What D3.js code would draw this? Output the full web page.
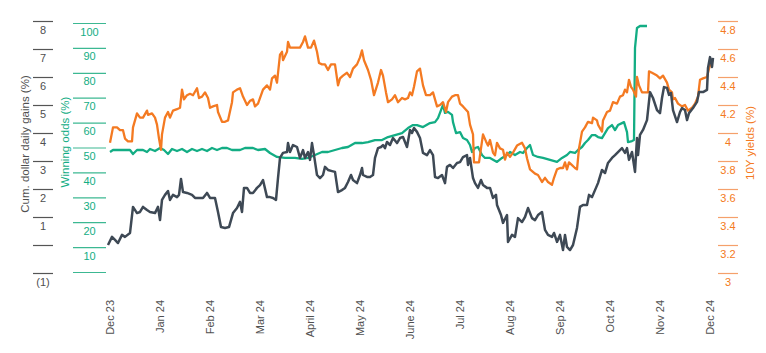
<!DOCTYPE html>
<html>
<head>
<meta charset="utf-8">
<script src="https://cdn.jsdelivr.net/npm/d3@7"></script>
<style>
  body { margin: 0; background: #fff; }
  svg { font-family: "Liberation Sans", Arial, sans-serif; }
</style>
</head>
<body>
<div id="chart"></div>
<script>
// x values are months since Dec 23 (0 = Dec 23, 12 = Dec 24)
const monthLabels = ['Dec 23', 'Jan 24', 'Feb 24', 'Mar 24', 'April 24', 'May 24', 'June 24',
  'Jul 24', 'Aug 24', 'Sep 24', 'Oct 24', 'Nov 24', 'Dec 24']

const gainsTicks = [8, 7, 6, 5, 4, 3, 2, 1, 0, -1]
const oddsTicks = [100, 90, 80, 70, 60, 50, 40, 30, 20, 10, 0]
const yieldTicks = [4.8, 4.6, 4.4, 4.2, 4, 3.8, 3.6, 3.4, 3.2, 3]

// cum. dollar daily gains (%)
const gains = [
  [-0.02, 0.0], [0.06, 0.29], [0.12, 0.18], [0.18, 0.07], [0.26, 0.36], [0.32, 0.29], [0.42, 0.43],
  [0.48, 1.36], [0.56, 1.14], [0.62, 1.18], [0.68, 1.36], [0.76, 1.25], [0.82, 1.18], [0.92, 1.14],
  [0.98, 1.36], [1.02, 0.89], [1.06, 1.61], [1.12, 1.79], [1.18, 1.93], [1.22, 1.61], [1.28, 1.79],
  [1.36, 1.71], [1.40, 1.79], [1.44, 2.36], [1.48, 1.89], [1.56, 1.86], [1.66, 1.79], [1.72, 1.68],
  [1.82, 1.68], [1.88, 1.68], [1.96, 1.86], [2.02, 1.68], [2.12, 1.68], [2.18, 1.18], [2.24, 0.64],
  [2.32, 0.61], [2.40, 0.64], [2.48, 1.14], [2.56, 1.32], [2.62, 1.54], [2.66, 1.18], [2.70, 2.04],
  [2.76, 2.04], [2.82, 1.86], [2.88, 1.86], [2.96, 2.04], [3.02, 2.14], [3.08, 2.32], [3.16, 1.71],
  [3.22, 1.71], [3.28, 1.68], [3.34, 1.61], [3.38, 2.39], [3.42, 3.11], [3.48, 3.29], [3.56, 3.32],
  [3.58, 3.64], [3.62, 3.32], [3.68, 3.57], [3.76, 3.5], [3.82, 3.11], [3.88, 3.39], [3.92, 3.11],
  [3.98, 3.32], [4.02, 3.04], [4.06, 3.64], [4.10, 3.21], [4.16, 2.5], [4.22, 2.39], [4.28, 2.5],
  [4.32, 2.79], [4.38, 2.68], [4.46, 2.64], [4.52, 2.61], [4.58, 1.89], [4.66, 1.96], [4.72, 2.04],
  [4.78, 2.25], [4.84, 2.5], [4.88, 2.32], [4.96, 2.21], [5.02, 2.5], [5.06, 2.75], [5.08, 2.5],
  [5.16, 2.43], [5.22, 2.43], [5.28, 2.5], [5.32, 3.11], [5.38, 3.46], [5.44, 3.5], [5.48, 3.57],
  [5.52, 3.46], [5.56, 3.68], [5.62, 3.57], [5.68, 3.82], [5.76, 3.64], [5.82, 3.82], [5.88, 3.86],
  [5.96, 3.5], [6.02, 4.11], [6.06, 4.0], [6.10, 4.18], [6.16, 4.04], [6.22, 3.82], [6.28, 3.29],
  [6.36, 3.21], [6.42, 3.39], [6.48, 3.21], [6.52, 2.43], [6.58, 2.39], [6.66, 2.5], [6.72, 2.21],
  [6.76, 2.79], [6.82, 2.86], [6.88, 2.75], [6.96, 2.93], [7.02, 2.96], [7.08, 3.14], [7.16, 3.21],
  [7.18, 2.86], [7.22, 3.11], [7.28, 2.39], [7.32, 2.21], [7.38, 2.04], [7.44, 2.32], [7.48, 2.14],
  [7.56, 2.04], [7.62, 2.04], [7.68, 1.68], [7.74, 1.79], [7.76, 1.43], [7.84, 1.07], [7.88, 0.79],
  [7.96, 1.07], [7.98, 0.11], [8.06, 0.36], [8.12, 0.29], [8.18, 0.96], [8.26, 0.82], [8.32, 1.0],
  [8.38, 1.32], [8.46, 0.96], [8.52, 0.89], [8.58, 1.07], [8.66, 1.18], [8.72, 0.54], [8.78, 0.36],
  [8.86, 0.29], [8.90, 0.43], [8.96, 0.11], [9.02, 0.36], [9.08, -0.18], [9.12, 0.36], [9.16, -0.07],
  [9.22, -0.18], [9.28, 0.0], [9.36, 0.61], [9.42, 1.36], [9.48, 1.43], [9.56, 1.43], [9.60, 1.79],
  [9.66, 1.71], [9.72, 1.96], [9.78, 2.21], [9.86, 2.68], [9.92, 2.57], [9.98, 2.93], [10.06, 3.11],
  [10.12, 3.21], [10.18, 3.32], [10.26, 3.46], [10.32, 3.29], [10.36, 3.46], [10.40, 3.04],
  [10.46, 3.32], [10.52, 2.61], [10.56, 3.82], [10.58, 3.21], [10.62, 3.93], [10.68, 4.11],
  [10.76, 4.46], [10.82, 5.46], [10.88, 5.25], [10.96, 4.82], [11.02, 4.71], [11.06, 5.25],
  [11.10, 5.64], [11.16, 5.61], [11.20, 5.36], [11.24, 5.43], [11.28, 4.82], [11.36, 4.39],
  [11.42, 4.75], [11.46, 4.89], [11.52, 4.82], [11.56, 4.46], [11.60, 4.71], [11.68, 4.89],
  [11.76, 5.11], [11.80, 5.46], [11.88, 5.46], [11.96, 5.54], [11.98, 6.32], [12.02, 6.71],
  [12.06, 6.36], [12.08, 6.68]
]

// winning odds (%)
const odds = [
  [0.02, 48.2], [0.08, 49.0], [0.22, 49.0], [0.42, 49.0], [0.48, 47.4], [0.56, 49.0], [0.68, 49.0],
  [0.76, 48.2], [0.82, 49.4], [0.92, 48.6], [1.02, 49.8], [1.10, 49.0], [1.18, 47.4], [1.26, 49.4],
  [1.36, 48.6], [1.46, 49.4], [1.56, 48.2], [1.66, 49.4], [1.76, 48.6], [1.86, 49.4], [1.96, 48.6],
  [2.06, 49.8], [2.16, 49.0], [2.26, 49.8], [2.36, 49.8], [2.46, 49.0], [2.62, 49.0], [2.72, 49.8],
  [2.88, 49.8], [2.98, 49.0], [3.12, 49.4], [3.22, 47.8], [3.36, 46.2], [3.52, 45.8], [3.72, 45.8],
  [3.86, 45.4], [3.98, 45.8], [4.12, 47.0], [4.26, 48.2], [4.38, 48.2], [4.52, 49.0], [4.66, 49.8],
  [4.78, 50.2], [4.92, 51.8], [5.06, 51.8], [5.18, 52.2], [5.32, 53.0], [5.46, 53.0], [5.58, 54.2],
  [5.72, 55.0], [5.86, 55.8], [5.98, 57.8], [6.08, 59.0], [6.16, 59.0], [6.28, 58.2], [6.42, 59.8],
  [6.52, 60.2], [6.58, 61.8], [6.68, 67.1], [6.72, 63.9], [6.78, 64.3], [6.86, 63.1], [6.88, 60.2],
  [6.94, 55.8], [7.02, 56.2], [7.08, 53.8], [7.16, 53.0], [7.22, 51.0], [7.26, 48.2], [7.32, 49.8],
  [7.38, 50.2], [7.46, 47.0], [7.52, 45.8], [7.62, 45.8], [7.76, 44.2], [7.86, 45.8], [7.96, 47.0],
  [8.02, 48.2], [8.12, 47.0], [8.22, 48.2], [8.28, 47.8], [8.36, 49.8], [8.42, 51.0], [8.48, 47.0],
  [8.58, 46.2], [8.68, 45.8], [8.82, 45.0], [8.96, 44.2], [9.06, 45.8], [9.16, 47.0], [9.22, 48.2],
  [9.32, 47.8], [9.38, 49.0], [9.46, 50.2], [9.52, 51.8], [9.58, 53.0], [9.66, 55.0], [9.72, 55.0],
  [9.78, 54.2], [9.86, 53.8], [9.92, 55.8], [9.98, 57.8], [10.06, 59.0], [10.12, 57.0], [10.18, 59.0],
  [10.26, 59.8], [10.30, 60.2], [10.36, 56.2], [10.38, 52.2], [10.46, 52.6], [10.50, 53.0],
  [10.52, 90.0], [10.56, 98.0], [10.62, 98.8], [10.76, 98.8]
]

// 10Y yields (%)
const yields = [
  [0.02, 3.93], [0.08, 4.04], [0.16, 4.04], [0.22, 4.02], [0.28, 4.02], [0.32, 3.96], [0.38, 3.94],
  [0.46, 3.94], [0.48, 4.04], [0.56, 4.14], [0.62, 4.11], [0.68, 4.11], [0.76, 4.16], [0.78, 4.13],
  [0.86, 4.14], [0.92, 4.11], [0.96, 4.06], [1.00, 3.96], [1.04, 3.88], [1.06, 3.99], [1.12, 4.11],
  [1.18, 4.15], [1.22, 4.11], [1.28, 4.16], [1.36, 4.17], [1.42, 4.18], [1.46, 4.31], [1.50, 4.24],
  [1.56, 4.27], [1.62, 4.28], [1.68, 4.27], [1.76, 4.32], [1.80, 4.25], [1.86, 4.26], [1.92, 4.29],
  [1.98, 4.25], [2.02, 4.18], [2.08, 4.19], [2.16, 4.20], [2.18, 4.15], [2.26, 4.08], [2.32, 4.08],
  [2.38, 4.09], [2.46, 4.22], [2.48, 4.29], [2.56, 4.31], [2.62, 4.32], [2.68, 4.26], [2.76, 4.20],
  [2.82, 4.23], [2.88, 4.24], [2.92, 4.19], [2.98, 4.21], [3.08, 4.31], [3.16, 4.34], [3.22, 4.31],
  [3.26, 4.39], [3.32, 4.41], [3.36, 4.36], [3.42, 4.56], [3.46, 4.58], [3.48, 4.52], [3.56, 4.58],
  [3.58, 4.65], [3.62, 4.61], [3.68, 4.61], [3.76, 4.61], [3.82, 4.61], [3.88, 4.65], [3.92, 4.69],
  [3.98, 4.61], [4.04, 4.61], [4.10, 4.66], [4.16, 4.58], [4.20, 4.50], [4.26, 4.49], [4.32, 4.49],
  [4.38, 4.45], [4.44, 4.49], [4.52, 4.49], [4.58, 4.34], [4.62, 4.39], [4.68, 4.41], [4.76, 4.43],
  [4.82, 4.40], [4.88, 4.46], [4.96, 4.49], [5.02, 4.54], [5.06, 4.59], [5.10, 4.52], [5.18, 4.45],
  [5.24, 4.38], [5.30, 4.27], [5.38, 4.36], [5.44, 4.45], [5.48, 4.41], [5.54, 4.29], [5.58, 4.22],
  [5.66, 4.24], [5.72, 4.27], [5.78, 4.22], [5.86, 4.25], [5.92, 4.24], [5.98, 4.25], [6.02, 4.29],
  [6.06, 4.27], [6.10, 4.33], [6.16, 4.44], [6.22, 4.46], [6.28, 4.34], [6.34, 4.27], [6.42, 4.27],
  [6.48, 4.29], [6.56, 4.19], [6.62, 4.20], [6.68, 4.22], [6.74, 4.15], [6.78, 4.22], [6.86, 4.26],
  [6.92, 4.27], [6.98, 4.27], [7.02, 4.21], [7.08, 4.19], [7.18, 4.15], [7.22, 4.06], [7.28, 3.99],
  [7.30, 3.79], [7.36, 3.79], [7.40, 3.79], [7.44, 3.89], [7.48, 3.99], [7.54, 3.94], [7.58, 3.91],
  [7.62, 3.95], [7.68, 3.86], [7.72, 3.84], [7.76, 3.93], [7.82, 3.89], [7.88, 3.88], [7.92, 3.81],
  [7.96, 3.86], [8.02, 3.83], [8.08, 3.86], [8.16, 3.91], [8.26, 3.93], [8.32, 3.89], [8.36, 3.82],
  [8.42, 3.74], [8.52, 3.71], [8.58, 3.70], [8.66, 3.65], [8.72, 3.68], [8.78, 3.65], [8.86, 3.63],
  [8.90, 3.68], [8.96, 3.74], [9.02, 3.75], [9.08, 3.75], [9.12, 3.79], [9.16, 3.74], [9.20, 3.79],
  [9.26, 3.77], [9.32, 3.75], [9.36, 3.74], [9.40, 3.89], [9.46, 4.01], [9.52, 4.04], [9.58, 4.08],
  [9.66, 4.07], [9.68, 4.11], [9.76, 4.09], [9.78, 4.06], [9.86, 4.01], [9.88, 4.09], [9.96, 4.15],
  [10.02, 4.16], [10.08, 4.22], [10.16, 4.21], [10.22, 4.26], [10.28, 4.27], [10.32, 4.31],
  [10.36, 4.29], [10.40, 4.38], [10.44, 4.33], [10.48, 4.31], [10.54, 4.26], [10.56, 4.40],
  [10.60, 4.34], [10.66, 4.29], [10.72, 4.29], [10.78, 4.29], [10.80, 4.44], [10.86, 4.43],
  [10.96, 4.41], [11.02, 4.39], [11.08, 4.41], [11.16, 4.36], [11.20, 4.31], [11.26, 4.29],
  [11.28, 4.24], [11.32, 4.25], [11.38, 4.21], [11.46, 4.19], [11.52, 4.20], [11.58, 4.16],
  [11.66, 4.18], [11.72, 4.21], [11.78, 4.26], [11.82, 4.38], [11.88, 4.39], [11.96, 4.40],
  [12.00, 4.46], [12.04, 4.51], [12.08, 4.52]
]

const width = 766, height = 353
const darkCol = '#3e4955', greenCol = '#13ad84', orangeCol = '#f47a22'
const greyText = '#505050'

const svg = d3.select('#chart').append('svg')
  .attr('width', width)
  .attr('height', height)

const x = d3.scaleLinear().domain([0, 12]).range([109, 709])
const yGains = d3.scaleLinear().domain([-1, 8]).range([273, 21])
const yOdds = d3.scaleLinear().domain([0, 100]).range([272, 23])
const yYield = d3.scaleLinear().domain([3, 4.8]).range([273, 21])

// y axes: short line above each centred label
function drawAxis(scale, ticks, fmt, left, len, lineCol, textCol) {
  const g = svg.append('g')
    .attr('transform', `translate(${left}, 0)`)
    .call(d3.axisRight(scale).tickValues(ticks).tickSize(len).tickFormat(fmt))
  g.select('.domain').remove()
  g.selectAll('.tick line').attr('stroke', lineCol).attr('stroke-width', 1.2)
  g.selectAll('.tick text')
    .attr('x', len / 2)
    .attr('y', 12)
    .attr('dy', null)
    .attr('text-anchor', 'middle')
    .attr('fill', textCol)
    .style('font-size', '11px')
  return g
}

drawAxis(yGains, gainsTicks, d => d === 0 ? '' : d < 0 ? `(${-d})` : d, 33, 20, '#555', greyText)
drawAxis(yOdds, oddsTicks, d => d === 0 ? '' : d, 73, 33, '#3cb892', greenCol)
drawAxis(yYield, yieldTicks, d => d, 718, 20, '#f5a06b', orangeCol)

// axis titles
const title = (tx, ty, txt, col) => svg.append('text')
  .attr('transform', `translate(${tx}, ${ty}) rotate(-90)`)
  .attr('text-anchor', 'middle')
  .attr('fill', col)
  .style('font-size', '11.5px')
  .text(txt)
title(29, 144, 'Cum. dollar daily gains (%)', greyText)
title(69, 142, 'Winning odds (%)', greenCol)
title(754, 143, '10Y yields (%)', orangeCol)

// x axis
const xg = svg.append('g')
  .attr('transform', 'translate(0, 300)')
  .call(d3.axisBottom(x).tickValues(d3.range(13)).tickSize(0).tickFormat(i => monthLabels[i]))
xg.select('.domain').remove()
xg.selectAll('.tick text')
  .attr('transform', 'rotate(-90)')
  .attr('x', 0)
  .attr('y', 4)
  .attr('dy', null)
  .attr('text-anchor', 'end')
  .attr('fill', greyText)
  .style('font-size', '11px')

// lines
const line = yScale => d3.line().x(d => x(d[0])).y(d => yScale(d[1]))

svg.append('path').datum(odds)
  .attr('d', line(yOdds))
  .attr('fill', 'none').attr('stroke', greenCol).attr('stroke-width', 2.3)
  .attr('stroke-linejoin', 'round')
svg.append('path').datum(yields)
  .attr('d', line(yYield))
  .attr('fill', 'none').attr('stroke', orangeCol).attr('stroke-width', 2.3)
  .attr('stroke-linejoin', 'round')
svg.append('path').datum(gains)
  .attr('d', line(yGains))
  .attr('fill', 'none').attr('stroke', darkCol).attr('stroke-width', 2.5)
  .attr('stroke-linejoin', 'round')
</script>
</body>
</html>
